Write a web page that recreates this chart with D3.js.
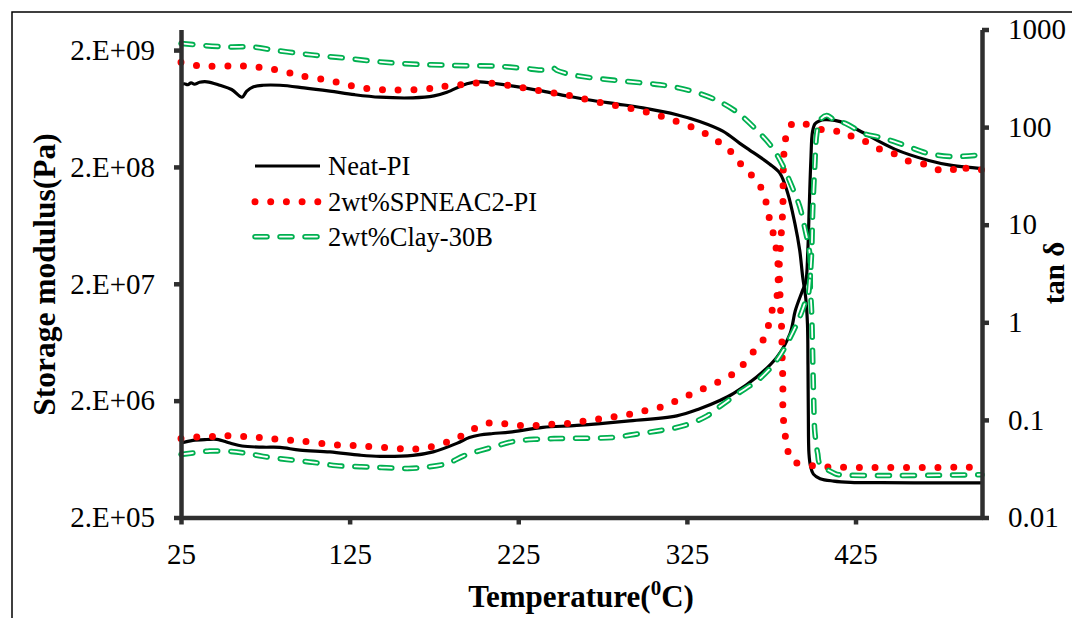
<!DOCTYPE html>
<html><head><meta charset="utf-8">
<script src="https://cdn.jsdelivr.net/npm/d3@7"></script>
<style>body{margin:0;background:#fff}svg{display:block}</style>
</head><body>
<svg id="c" width="1072" height="618"></svg>
<script>
// ---- data ----
const seriesNames = ["Neat-PI", "2wt%SPNEAC2-PI", "2wt%Clay-30B"];

const xTicks = [25, 125, 225, 325, 425];
const leftTicks = [2e5, 2e6, 2e7, 2e8, 2e9];
const leftTickLabels = ["2.E+05", "2.E+06", "2.E+07", "2.E+08", "2.E+09"];
const rightTicks = [0.01, 0.1, 1, 10, 100, 1000];
const rightTickLabels = ["0.01", "0.1", "1", "10", "100", "1000"];

// Neat-PI storage modulus
const neatStorageT = [25, 27, 29, 31, 33, 36, 40.4, 48, 55, 61.2, 64, 68, 73.6, 83.7, 98, 113.3, 128, 143, 162.5, 175, 182.7, 194.5, 202.2, 210, 225, 239.6, 254, 269.2, 284, 298.9, 319, 332.6, 346.3, 356.4, 362, 368.2, 374, 380.1, 384.8, 389, 391.9, 393.7, 395.5, 396.5, 396.8, 397.0, 397.4, 398.3, 400, 404, 412, 422, 440, 470, 500];
const neatStorageE = [1.01e9, 1.03e9, 1.01e9, 1.05e9, 1.02e9, 1.06e9, 1.07e9, 1.0e9, 0.92e9, 0.79e9, 0.89e9, 0.97e9, 1.0e9, 1.0e9, 0.95e9, 0.89e9, 0.83e9, 0.79e9, 0.78e9, 0.81e9, 0.87e9, 1.03e9, 1.07e9, 1.04e9, 0.97e9, 0.89e9, 0.81e9, 0.74e9, 0.69e9, 0.64e9, 0.56e9, 0.49e9, 0.405e9, 0.318e9, 0.28e9, 0.244e9, 0.212e9, 0.177e9, 0.119e9, 0.066e9, 0.0387e9, 0.0227e9, 1.5e7, 9e6, 4e6, 1.6e6, 0.7e6, 0.55e6, 0.47e6, 0.43e6, 0.41e6, 0.4e6, 0.397e6, 0.396e6, 0.396e6];
// Neat-PI tan delta
const neatTanT = [25, 32, 40.4, 46.3, 54, 61.2, 73.6, 83.7, 95.5, 113.3, 131.1, 143, 162.5, 174.5, 188.5, 196, 202.2, 210, 220, 239.6, 259.7, 289.4, 319, 332.6, 344.5, 352.7, 366.4, 378.4, 386.2, 389.3, 393.5, 395.5, 396.7, 397.6, 398.5, 399.5, 401, 403.8, 406.7, 412.7, 419, 428.7, 448.2, 468.4, 482, 500];
const neatTanD = [0.058, 0.0617, 0.063, 0.0632, 0.058, 0.054, 0.0525, 0.0523, 0.049, 0.047, 0.0435, 0.0423, 0.0433, 0.047, 0.0575, 0.066, 0.07, 0.0725, 0.075, 0.0837, 0.0877, 0.097, 0.11, 0.13, 0.158, 0.187, 0.275, 0.44, 0.768, 1.32, 2.1, 2.6, 5.4, 16, 45, 90, 108, 116, 119, 117, 109, 89, 59.5, 45.5, 40.5, 37.6];

// 2wt%SPNEAC2-PI storage modulus
const spneStorageT = [25, 35.1, 54, 64.1, 73.6, 83.7, 95.5, 113.9, 132, 150.9, 169.8, 178.7, 194.5, 204, 223, 240.8, 250.8, 259.7, 278, 297, 314.9, 332.6, 340.4, 348.6, 354.6, 360.5, 366.4, 370.6, 373, 374.7, 377.1, 378.3, 379.5, 380.1, 380.3, 381.3, 381.4, 381.9, 382.0, 383, 384.3, 387.2, 396.1, 405.6, 500];
const spneStorageE = [1.57e9, 1.47e9, 1.46e9, 1.46e9, 1.41e9, 1.34e9, 1.21e9, 1.09e9, 0.95e9, 0.91e9, 0.93e9, 0.97e9, 1.02e9, 1.05e9, 0.98e9, 0.88e9, 0.84e9, 0.79e9, 0.69e9, 0.61e9, 0.513e9, 0.41e9, 0.35e9, 0.295e9, 0.233e9, 0.185e9, 0.154e9, 0.116e9, 0.085e9, 0.0634e9, 0.049e9, 0.0358e9, 0.0256e9, 1.93e7, 1.44e7, 0.75e7, 0.54e7, 0.286e7, 1.55e6, 1.11e6, 0.824e6, 0.613e6, 0.566e6, 0.544e6, 0.54e6];
// 2wt%SPNEAC2-PI tan delta
const spneTanT = [25, 35.1, 46.3, 54, 64.1, 73.6, 83.7, 95.5, 113.9, 132.9, 151.8, 161.3, 170.7, 180.7, 189, 197, 206, 215, 225, 235, 244.8, 254.8, 263.7, 273.8, 282.7, 292.2, 301, 310, 319, 327.9, 336.8, 350.4, 357.5, 363.5, 367, 372.4, 374.1, 377.1, 378.3, 378.9, 379.5, 380.1, 380.7, 381.3, 381.9, 382.0, 382.1, 382.4, 383, 385.4, 388.9, 393, 409.1, 418, 424.5, 432.2, 440.5, 447.6, 455.3, 461.3, 468.4, 474.3, 482, 486.2, 492.1, 500];
const spneTanD = [0.0645, 0.0668, 0.068, 0.069, 0.067, 0.0655, 0.063, 0.061, 0.056, 0.054, 0.0511, 0.0499, 0.052, 0.0575, 0.0655, 0.078, 0.092, 0.092, 0.0877, 0.0877, 0.09, 0.092, 0.097, 0.103, 0.108, 0.115, 0.125, 0.136, 0.158, 0.185, 0.217, 0.282, 0.356, 0.48, 0.55, 0.78, 1.12, 1.56, 1.79, 2.38, 3.4, 4.62, 6.9, 9.9, 14.6, 21.4, 31.9, 47.7, 66, 99, 111, 110, 90.5, 90.5, 77, 70, 58, 53.6, 45.5, 43.5, 40.5, 36.5, 35.9, 41.5, 36.8, 36.5];

// 2wt%Clay-30B storage modulus
const clayStorageT = [25, 39.8, 54, 67, 80, 95.5, 109, 124, 138, 151.8, 165.4, 180, 194, 212, 220, 232, 239, 244, 246, 248, 252, 258, 268, 283, 298, 309, 320, 330.9, 343.3, 354.6, 366.4, 375.3, 381.3, 387.2, 391.9, 394.9, 397.9, 398.2, 399, 399.6, 400.2, 400.8, 402, 402.6, 403.8, 412.7, 415, 500];
const clayStorageE = [2.28e9, 2.18e9, 2.13e9, 2.13e9, 2.0e9, 1.87e9, 1.78e9, 1.70e9, 1.61e9, 1.55e9, 1.51e9, 1.49e9, 1.47e9, 1.46e9, 1.43e9, 1.38e9, 1.35e9, 1.37e9, 1.40e9, 1.34e9, 1.28e9, 1.22e9, 1.16e9, 1.1e9, 1.05e9, 1.01e9, 0.95e9, 0.865e9, 0.737e9, 0.59e9, 0.413e9, 0.297e9, 0.213e9, 0.137e9, 0.0915e9, 0.06e9, 0.0356e9, 1.86e7, 1.11e7, 0.468e7, 2e6, 1.11e6, 0.79e6, 0.70e6, 0.578e6, 0.476e6, 0.465e6, 0.465e6];
// 2wt%Clay-30B tan delta
const clayTanT = [25, 35.1, 42, 54, 64, 73.6, 88, 103, 117, 131, 144, 155, 160, 170, 183, 193, 208.7, 222.9, 236.5, 252.5, 268, 282, 296, 309.5, 323.7, 337, 344.5, 354.6, 368.2, 378.3, 386, 391.9, 396.1, 396.7, 397.9, 399, 399.6, 400.8, 402, 403.8, 407.9, 412.7, 418.6, 430, 438.7, 447.6, 456.5, 468.4, 482, 500];
const clayTanD = [0.0443, 0.0465, 0.048, 0.0476, 0.0454, 0.0423, 0.0393, 0.0368, 0.034, 0.0332, 0.0325, 0.032, 0.0318, 0.0328, 0.0358, 0.0431, 0.052, 0.0605, 0.0635, 0.0647, 0.065, 0.0663, 0.072, 0.078, 0.0877, 0.11, 0.137, 0.183, 0.265, 0.408, 0.684, 1.13, 1.74, 1.79, 2.69, 5.44, 13.9, 38.8, 85, 117, 131.5, 117, 110, 86, 79, 71.5, 63, 53.6, 50, 52];

// ---- drawing ----
const W = 1072, H = 618;
const L = 181, R = 982, TOP = 29.5, B = 517.5;
const axisColor = "#2f2f2f";
const serif = "'Liberation Serif','Times New Roman',serif";
const svg = d3.select("#c");
svg.append("rect").attr("width", W).attr("height", H).attr("fill", "#fff");
svg.append("rect").attr("x", 12).attr("y", 12).attr("width", 1200).attr("height", 800)
  .attr("fill", "none").attr("stroke", "#000").attr("stroke-width", 1.5);

const x = d3.scaleLinear().domain([25, 500]).range([L, R]);
const yL = d3.scaleLog().domain([2e5, 3e9]).range([B, TOP]);
const yR = d3.scaleLog().domain([0.01, 1000]).range([B, TOP]);

const zip = (a, b) => a.map((v, i) => [v, b[i]]);
const curve = d3.curveCatmullRom.alpha(0.5);
const lineL = d3.line().curve(curve).x(d => x(d[0])).y(d => yL(d[1]));
const lineR = d3.line().curve(curve).x(d => x(d[0])).y(d => yR(d[1]));

const styles = [
  { draw: (g, d) => g.append("path").attr("d", d).attr("fill", "none").attr("stroke", "#000").attr("stroke-width", 3.2).attr("stroke-linejoin", "round") },
  { draw: (g, d) => g.append("path").attr("d", d).attr("fill", "none").attr("stroke", "#FF0000").attr("stroke-width", 7).attr("stroke-linecap", "round").attr("stroke-dasharray", "0 15.7") },
  { draw: (g, d) => {
      g.append("path").attr("d", d).attr("fill", "none").attr("stroke", "#00B050").attr("stroke-width", 5.5).attr("stroke-linecap", "round").attr("stroke-dasharray", "12 13");
      g.append("path").attr("d", d).attr("fill", "none").attr("stroke", "#fff").attr("stroke-width", 1.8).attr("stroke-linecap", "round").attr("stroke-dasharray", "12 13");
  } }
];

const data = [
  [zip(neatStorageT, neatStorageE), zip(neatTanT, neatTanD)],
  [zip(spneStorageT, spneStorageE), zip(spneTanT, spneTanD)],
  [zip(clayStorageT, clayStorageE), zip(clayTanT, clayTanD)]
];

const plot = svg.append("g");
data.forEach((s, i) => {
  styles[i].draw(plot, lineL(s[0]));
  styles[i].draw(plot, lineR(s[1]));
});

// axes
function styleAxis(g) {
  g.select(".domain").attr("stroke", axisColor).attr("stroke-width", 4.5);
  g.selectAll(".tick line").attr("stroke", axisColor).attr("stroke-width", 4.5);
  g.selectAll(".tick text").attr("fill", "#000").style("font-family", serif).style("font-size", "29px");
}
const gx = svg.append("g").attr("transform", `translate(0,${B})`)
  .call(d3.axisBottom(x).tickValues(xTicks).tickSize(7).tickSizeOuter(0).tickPadding(19).tickFormat(d3.format("d")));
styleAxis(gx);
const gl = svg.append("g").attr("transform", `translate(${L},0)`)
  .call(d3.axisLeft(yL).tickValues(leftTicks).tickSize(7).tickSizeOuter(0).tickPadding(19).tickFormat((d, i) => leftTickLabels[i]));
styleAxis(gl);
const gr = svg.append("g").attr("transform", `translate(${R},0)`)
  .call(d3.axisRight(yR).tickValues(rightTicks).tickSize(7).tickSizeOuter(0).tickPadding(19).tickFormat((d, i) => rightTickLabels[i]));
styleAxis(gr);

// titles
svg.append("text").attr("transform", "translate(55,274.5) rotate(-90)").attr("text-anchor", "middle")
  .style("font-family", serif).style("font-size", "31.5px").style("font-weight", "bold").text("Storage modulus(Pa)");
svg.append("text").attr("transform", "translate(1064,273) rotate(-90)").attr("text-anchor", "middle")
  .style("font-family", serif).style("font-size", "29px").style("font-weight", "bold").text("tan δ");
const xt = svg.append("text").attr("x", 581).attr("y", 607).attr("text-anchor", "middle")
  .style("font-family", serif).style("font-size", "31px").style("font-weight", "bold");
xt.append("tspan").text("Temperature(");
xt.append("tspan").attr("dy", -12).style("font-size", "21px").text("0");
xt.append("tspan").attr("dy", 12).text("C)");

// legend
const legY = [166, 201.7, 236.7];
seriesNames.forEach((name, i) => {
  const g = svg.append("g");
  const d = `M255,${legY[i]}L320,${legY[i]}`;
  styles[i].draw(g, d);
  g.append("text").attr("x", 328).attr("y", legY[i] + 9).style("font-family", serif).style("font-size", "26.5px").text(name);
});
</script>
</body></html>
